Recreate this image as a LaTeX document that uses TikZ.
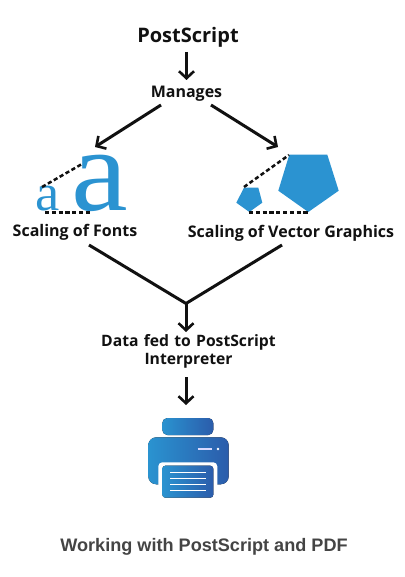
\documentclass[tikz,border=0pt]{standalone}
\usepackage{fontspec}
\setmainfont{Open Sans}
\newfontfamily\glyphfont{Liberation Serif}
\newfontfamily\capfont{Liberation Sans}
\usetikzlibrary{arrows.meta,calc}
\definecolor{inkc}{HTML}{111111}
\definecolor{bluec}{HTML}{2B93D1}
\definecolor{bluel}{HTML}{2A93D0}
\definecolor{blued}{HTML}{2B5CAB}
\definecolor{capc}{HTML}{444444}
\tikzset{
  lab/.style={inner sep=0pt,font=\bfseries\fontsize{16}{20}\selectfont,text=inkc,align=center},
  conn/.style={draw=inkc,line width=3pt},
  arr/.style={conn,-{Straight Barb[length=7pt,width=15pt,line width=2.6pt]}},
  dashln/.style={draw=inkc,line width=2.5pt,dash pattern=on 4.2pt off 2.6pt},
  glyph/.style={inner sep=0pt,anchor=base,text=bluec},
  penta/.style={fill=bluec,draw=none},
  paperw/.style={fill=white,draw=none},
}
\begin{document}
\begin{tikzpicture}[x=1pt,y=-1pt]
\useasboundingbox[fill=white] (0,0) rectangle (404,577);
% texts
\node[lab,font=\bfseries\fontsize{20}{24}\selectfont,anchor=base] (title) at (188,42.5) {PostScript};
\node[lab,anchor=base] (manages) at (186.5,97.5) {Manages};
\node[lab,anchor=base] (fonts) at (75,236.5) {Scaling of Fonts};
\node[lab,anchor=base] (vector) at (291,237) {Scaling of Vector Graphics};
\node[lab,anchor=base,text width=200pt,font=\bfseries\fontsize{15.7}{20}\selectfont] (data) at (188.5,346) {Data fed to PostScript\\[-1.5pt]Interpreter};
\node[anchor=base,inner sep=0pt,text=capc,font=\capfont\bfseries\fontsize{18.1}{20}\selectfont] (caption) at (204,551) {Working with PostScript and PDF};
% connector ends
\coordinate (mL) at (161,105);
\coordinate (mR) at (211,105);
\coordinate (fontsTip) at (95,147);
\coordinate (vectorTip) at (278,147);
\coordinate (vL) at (89,245);
\coordinate (vR) at (282,245);
\coordinate (junction) at (186,303.5);
\coordinate (dataTip) at (186,332);
\coordinate (outTop) at (186,377);
\coordinate (printerTip) at (186,405);
\coordinate (titleFoot) at (186.5,52);
\coordinate (managesHead) at (186.5,80);
% connectors
\draw[arr] (titleFoot) -- (managesHead);
\draw[arr] (mL) -- (fontsTip);
\draw[arr] (mR) -- (vectorTip);
\draw[conn] (vL) -- (junction) -- (vR);
\draw[arr] (junction) -- (dataTip);
\draw[arr] (outTop) -- (printerTip);
% font scaling
\node[glyph,xscale=1.08,font=\glyphfont\fontsize{118}{118}\selectfont] (bigA) at (100,211) {a};
\node[glyph,xscale=1.05,font=\glyphfont\fontsize{52}{52}\selectfont] (smallA) at (48,211) {a};
\draw[dashln] (42,187) -- (82,164);
\draw[dashln] (45,212.6) -- (90,212.6);
% vector scaling
\fill[penta] (289.3,154.7) -- (327.3,154.7) -- (338.7,190.7) -- (308.3,212) -- (278.3,190.7) -- cycle;
\fill[penta] (244,187.7) -- (258.3,187.7) -- (262.3,202.7) -- (249.3,212) -- (236.3,202.7) -- cycle;
\draw[dashln] (244,187) -- (289,155);
\draw[dashln] (249,212.6) -- (308,212.6);
% printer
\fill[left color=bluel,right color=blued,rounded corners=5pt] (162.3,418) rectangle (213.3,435);
\fill[left color=bluel,right color=blued,rounded corners=8pt] (148.3,437.3) rectangle (228.7,484.3);
\fill[paperw,rounded corners=4pt] (158.3,462.3) rectangle (217.3,490);
\fill[left color=bluel,right color=blued,rounded corners=3pt] (162.3,465.7) rectangle (213.3,497.7);
\foreach \yy in {472.3,478.3,484.3,490.3}{
  \draw[white,line width=1.3pt] (170,\yy) -- (205.7,\yy);
}
\draw[white!85!blue,line width=1.4pt] (197.7,449) -- (212.3,449);
\fill[white] (218,449) circle (1.3);
\end{tikzpicture}
\end{document}
